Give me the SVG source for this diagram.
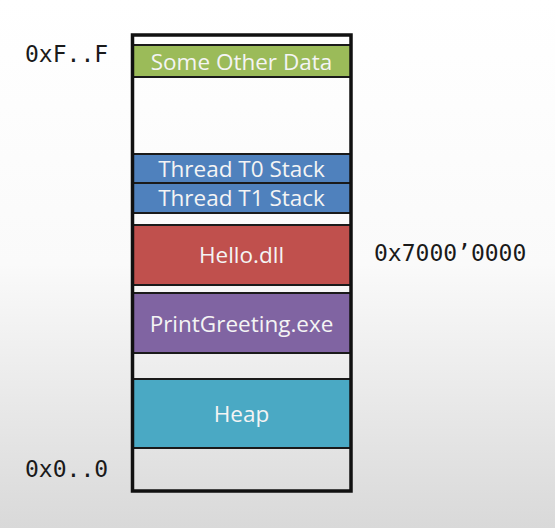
<svg xmlns="http://www.w3.org/2000/svg" width="555" height="528" viewBox="0 0 555 528">
  <defs>
    <linearGradient id="bg" x1="0" y1="0" x2="0" y2="1">
      <stop offset="0" stop-color="#ffffff"/>
      <stop offset="0.5" stop-color="#fafafa"/>
      <stop offset="1" stop-color="#d9d9d9"/>
    </linearGradient>
  </defs>
  <style>
    .blk { stroke: #1a1a1a; stroke-width: 2; }
    .lbl { font-family: "Open Sans", "Noto Sans", sans-serif; font-size: 22.5px; fill: #f4f4f4; text-anchor: middle; }
    .addr { font-family: "DejaVu Sans Mono", "Liberation Mono", monospace; font-size: 23px; fill: #1a1a1a; }
  </style>
  <rect x="0" y="0" width="555" height="528" fill="url(#bg)"/>

  <g id="some-other-data">
    <rect class="blk" x="132.5" y="45" width="218.5" height="32" fill="#9bbb59"/>
    <text class="lbl" x="241.5" y="69.5">Some Other Data</text>
  </g>
  <g id="thread-t0-stack">
    <rect class="blk" x="132.5" y="154" width="218.5" height="29" fill="#4f81bd"/>
    <text class="lbl" x="241.5" y="177">Thread T0 Stack</text>
  </g>
  <g id="thread-t1-stack">
    <rect class="blk" x="132.5" y="183" width="218.5" height="30" fill="#4f81bd"/>
    <text class="lbl" x="241.5" y="206">Thread T1 Stack</text>
  </g>
  <g id="hello-dll">
    <rect class="blk" x="132.5" y="225" width="218.5" height="60" fill="#c0504d"/>
    <text class="lbl" x="241.5" y="263">Hello.dll</text>
  </g>
  <g id="printgreeting-exe">
    <rect class="blk" x="132.5" y="293" width="218.5" height="60" fill="#8064a2"/>
    <text class="lbl" x="241.5" y="332">PrintGreeting.exe</text>
  </g>
  <g id="heap">
    <rect class="blk" x="132.5" y="379" width="218.5" height="69" fill="#4aa9c4"/>
    <text class="lbl" x="241.5" y="422">Heap</text>
  </g>

  <g id="address-space">
    <rect x="132.5" y="35" width="218.5" height="456" fill="none" stroke="#111111" stroke-width="3.5"/>
  </g>

  <g id="addr-top">
    <text class="addr" x="25" y="62">0xF..F</text>
  </g>
  <g id="addr-bottom">
    <text class="addr" x="25" y="477">0x0..0</text>
  </g>
  <g id="addr-dll">
    <text class="addr" x="374" y="261">0x7000’0000</text>
  </g>
</svg>
